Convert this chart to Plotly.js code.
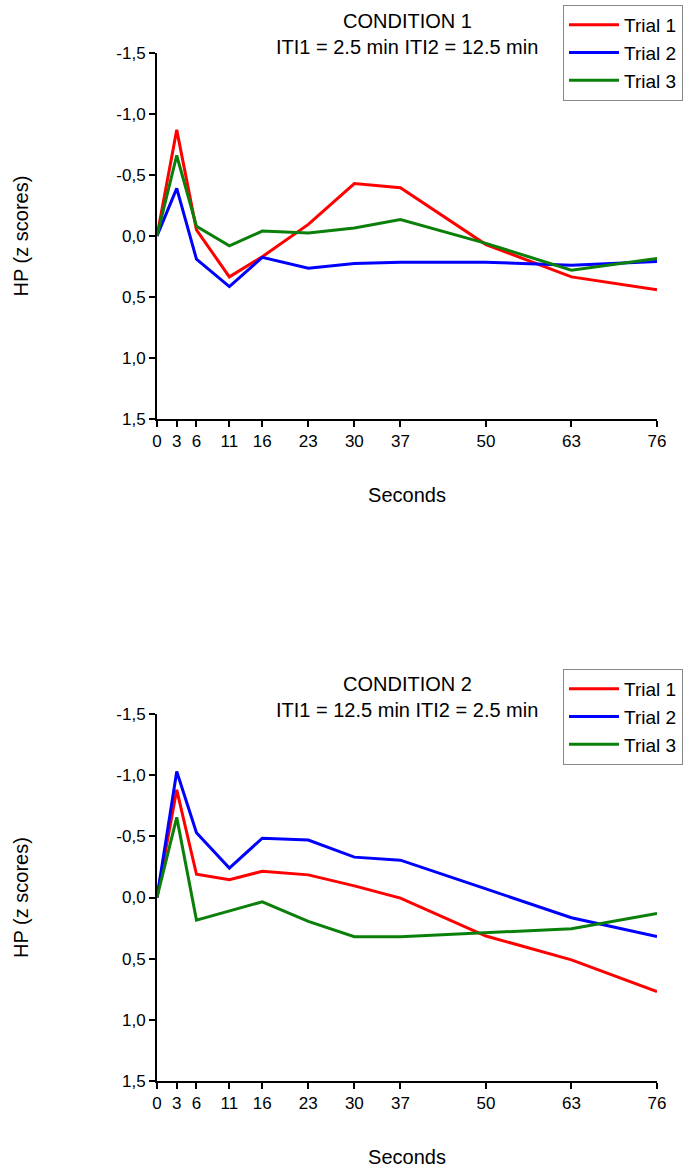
<!DOCTYPE html>
<html>
<head>
<meta charset="utf-8">
<script src="https://cdn.plot.ly/plotly-3.0.1.min.js"></script>
<style>html,body{margin:0;padding:0;background:#fff;}#chart{width:691px;height:1169px;}</style>
</head>
<body>
<div id="chart"></div>
<script>
// Data
const seconds = [0, 3, 6, 11, 16, 23, 30, 37, 50, 63, 76];
const xTickLabels = ["0", "3", "6", "11", "16", "23", "30", "37", "50", "63", "76"];
const yTickVals = [-1.5, -1.0, -0.5, 0.0, 0.5, 1.0, 1.5];
const yTickLabels = ["-1,5", "-1,0", "-0,5", "0,0", "0,5", "1,0", "1,5"];
const seriesNames = ["Trial 1", "Trial 2", "Trial 3"];

const cond1Trial1 = [0, -0.87, -0.05, 0.335, 0.17, -0.095, -0.43, -0.395, 0.07, 0.335, 0.44];
const cond1Trial2 = [0, -0.39, 0.19, 0.415, 0.175, 0.265, 0.225, 0.215, 0.215, 0.24, 0.21];
const cond1Trial3 = [0, -0.66, -0.08, 0.08, -0.04, -0.025, -0.065, -0.135, 0.06, 0.28, 0.185];

const cond2Trial1 = [0, -0.88, -0.19, -0.145, -0.215, -0.185, -0.095, 0.005, 0.315, 0.51, 0.77];
const cond2Trial2 = [0, -1.03, -0.53, -0.24, -0.485, -0.47, -0.33, -0.305, -0.07, 0.165, 0.32];
const cond2Trial3 = [0, -0.655, 0.185, 0.11, 0.035, 0.195, 0.32, 0.32, 0.285, 0.255, 0.13];

const titles1 = ["CONDITION 1", "ITI1 = 2.5 min ITI2 = 12.5 min"];
const titles2 = ["CONDITION 2", "ITI1 = 12.5 min ITI2 = 2.5 min"];
const xTitle = "Seconds";
const yTitle = "HP (z scores)";

// Styles
const colors = ["#ff0000", "#0000ff", "#0a7f0a"];
const FONT = "Liberation Sans, Arial, sans-serif";
const W = 691, H = 1169;
const py = p => 1 - p / H;

function mk(y, i, xa, ya, leg) {
  return {x: seconds, y: y, type: 'scatter', mode: 'lines', name: seriesNames[i],
    line: {color: colors[i], width: 3}, xaxis: xa, yaxis: ya, legend: leg};
}
const traces = [
  mk(cond1Trial1, 0, 'x', 'y', 'legend'),
  mk(cond1Trial2, 1, 'x', 'y', 'legend'),
  mk(cond1Trial3, 2, 'x', 'y', 'legend'),
  mk(cond2Trial1, 0, 'x2', 'y2', 'legend2'),
  mk(cond2Trial2, 1, 'x2', 'y2', 'legend2'),
  mk(cond2Trial3, 2, 'x2', 'y2', 'legend2')
];

function xaxis(anchor) {
  return {anchor: anchor, domain: [0, 1], range: [0, 76], tickmode: 'array', tickvals: seconds, ticktext: xTickLabels,
    showline: true, linecolor: '#000', linewidth: 2, ticks: 'outside', ticklen: 6, tickwidth: 2, tickcolor: '#000',
    showgrid: false, zeroline: false, tickfont: {family: FONT, size: 17, color: '#000'},
    title: {text: xTitle, font: {family: FONT, size: 20, color: '#000'}, standoff: 38}, automargin: false};
}
function yaxis(anchor, dom) {
  return {anchor: anchor, domain: dom, range: [1.5, -1.5], tickmode: 'array', tickvals: yTickVals, ticktext: yTickLabels,
    showline: true, linecolor: '#000', linewidth: 2, ticks: 'outside', ticklen: 6, tickwidth: 2, tickcolor: '#000',
    showgrid: false, zeroline: false, tickfont: {family: FONT, size: 17, color: '#000'},
    title: {text: yTitle, font: {family: FONT, size: 20, color: '#000'}, standoff: 82}, automargin: false};
}
function legend(topPx) {
  return {x: (563 - 157) / 500, xanchor: 'left', y: py(topPx), yanchor: 'top', xref: 'paper', yref: 'paper',
    bgcolor: '#fff', bordercolor: '#888', borderwidth: 1, font: {family: FONT, size: 19, color: '#000'},
    tracegroupgap: 0, itemwidth: 50};
}
function titleAnn(text, yPx) {
  return {text: text, x: 0.5, xref: 'paper', xanchor: 'center', y: py(yPx), yref: 'paper', yanchor: 'middle',
    showarrow: false, font: {family: FONT, size: 20, color: '#000'}};
}

const layout = {
  width: W, height: H,
  margin: {l: 157, r: 34, t: 0, b: 0},
  paper_bgcolor: '#fff', plot_bgcolor: '#fff',
  showlegend: true,
  xaxis: xaxis('y'),
  yaxis: yaxis('x', [py(419), py(53)]),
  xaxis2: xaxis('y2'),
  yaxis2: yaxis('x2', [py(1081), py(714)]),
  legend: legend(5),
  legend2: legend(669),
  annotations: [
    titleAnn(titles1[0], 21), titleAnn(titles1[1], 47),
    titleAnn(titles2[0], 684), titleAnn(titles2[1], 710)
  ]
};

Plotly.newPlot('chart', traces, layout, {displayModeBar: false, staticPlot: true});
</script>
</body>
</html>
